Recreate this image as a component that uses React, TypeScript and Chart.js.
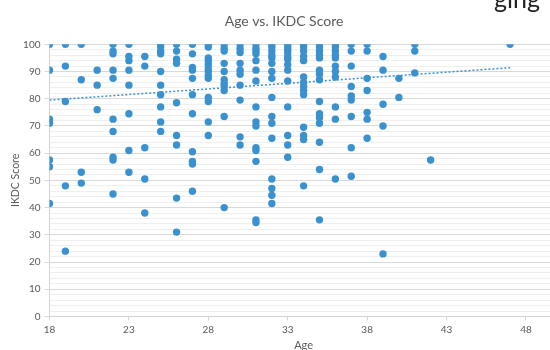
import React, { useEffect, useRef } from "react";
import { Chart, registerables } from "chart.js";

Chart.register(...registerables);

const chartTitle = "Age vs. IKDC Score";
const xTitle = "Age";
const yTitle = "IKDC Score";
const xTicks = [18, 23, 28, 33, 38, 43, 48];
const ages = [18, 19, 20, 21, 22, 23, 24, 25, 26, 27, 28, 29, 30, 31, 32, 33, 34, 35, 36, 37, 38, 39, 40, 41, 42, 47];
const scoresByAge = [
  [100, 90.5, 72.5, 71, 57.5, 55, 41.5],
  [100, 92, 79, 48, 24],
  [100, 87, 53, 49],
  [90.5, 85, 76],
  [100, 97.5, 96.5, 90.5, 87.5, 72.5, 68, 58.5, 57.5, 45],
  [100, 95.5, 94, 90.5, 85, 74.5, 61, 53],
  [95.5, 92, 62, 50.5, 38],
  [100, 99, 97.5, 96.5, 90, 85, 81.5, 77, 71.5, 68],
  [100, 97.5, 94.5, 93, 78.5, 66.5, 63, 43.5, 31],
  [100, 96.5, 91.5, 90.5, 87.5, 81.5, 74.5, 60.5, 57, 56, 46],
  [100, 99, 95, 94, 92.5, 91, 90, 88.5, 87.5, 80.5, 79, 71.5, 66.5],
  [100, 98.5, 97.5, 93, 90, 87, 85.5, 84.5, 83, 73.5, 40],
  [100, 98.5, 97, 93, 90.5, 89, 85, 79.5, 66, 63],
  [100, 98.5, 97.5, 96.5, 94, 90.5, 86.5, 77, 71.5, 70, 62, 61, 57, 35.5, 34.5],
  [100, 99, 97.5, 96, 95, 93, 90, 87.5, 80.5, 73.5, 71, 65.5, 50.5, 47, 44.5, 41.5],
  [100, 99, 98, 97, 95.5, 94.5, 92.5, 90.5, 86.5, 77, 66.5, 63, 58.5],
  [100, 99, 97.5, 95.5, 94, 88, 86, 84.5, 83, 81.5, 69.5, 66.5, 65, 48],
  [100, 99, 97.5, 96, 95, 90.5, 89, 87, 79, 74.5, 73, 71, 64, 54, 35.5],
  [100, 99, 97.5, 96, 95, 92, 90, 88, 77, 72.5, 50.5],
  [100, 97.5, 92, 84.5, 81, 79.5, 73.5, 62, 51.5],
  [100, 97.5, 87.5, 83, 75, 72.5, 65.5],
  [95.5, 90.5, 78, 70, 23],
  [87.5, 80.5],
  [100, 97.5, 89.5],
  [57.5],
  [100],
];
const trendAges = [18, 47];
const trendScores = [79.5, 91.4];

const FONT = "Lato, 'Open Sans', sans-serif";
const TEXT = "#595959";
const BLUE = "#3a91cf";

const titlePlugin = {
  id: "customTitle",
  afterDraw(chart: any) {
    const ctx = chart.ctx;
    ctx.save();
    ctx.fillStyle = TEXT;
    ctx.font = `14px ${FONT}`;
    ctx.textAlign = "center";
    ctx.textBaseline = "middle";
    ctx.fillText(chartTitle, 284, 21);
    ctx.fillStyle = "#222";
    ctx.font = `25px ${FONT}`;
    ctx.textAlign = "left";
    ctx.textBaseline = "alphabetic";
    ctx.fillText("ging", 494, 8);
    ctx.restore();
  },
};

export default function App() {
  const ref = useRef<HTMLCanvasElement>(null);
  useEffect(() => {
    const points = ages.flatMap((a, i) => scoresByAge[i].map((s) => ({ x: a, y: s })));
    const trend = trendAges.map((a, i) => ({ x: a, y: trendScores[i] }));
    const chart = new Chart(ref.current as HTMLCanvasElement, {
      type: "scatter",
      data: {
        datasets: [
          {
            data: points,
            backgroundColor: BLUE,
            borderWidth: 0,
            pointRadius: 3.7,
            pointHoverRadius: 3.7,
          },
          {
            data: trend,
            showLine: true,
            borderColor: BLUE,
            borderWidth: 1.5,
            borderDash: [2, 2],
            pointRadius: 0,
            fill: false,
          } as any,
        ],
      },
      options: {
        responsive: false,
        animation: false,
        devicePixelRatio: 1,
        layout: { padding: { top: 44.3, right: 12.3, left: 0, bottom: 0 }, autoPadding: false },
        plugins: { legend: { display: false }, tooltip: { enabled: false }, title: { display: false } },
        scales: {
          x: {
            type: "linear",
            min: 18,
            max: 50,
            afterBuildTicks: (s: any) => {
              s.ticks = xTicks.map((v) => ({ value: v }));
            },
            afterFit: (s: any) => {
              s.height = 43.5;
            },
            grid: { drawOnChartArea: false, color: "#d4d4d4", tickLength: 4 },
            border: { color: "#d4d4d4" },
            ticks: { color: TEXT, font: { family: FONT, size: 10 }, padding: 3, maxRotation: 0, autoSkip: false },
            title: { display: true, text: xTitle, color: TEXT, font: { family: FONT, size: 11 }, padding: { top: 4, bottom: 8 } },
          },
          y: {
            min: 0,
            max: 100,
            afterFit: (s: any) => {
              s.width = 49.5;
            },
            ticks: {
              stepSize: 2,
              autoSkip: false,
              color: TEXT,
              font: { family: FONT, size: 10 },
              padding: 4,
              callback: (v: any) => (Number(v) % 10 === 0 ? String(v) : ""),
            },
            grid: {
              color: (c: any) => (c.tick && c.tick.value % 10 === 0 ? "#d9d9d9" : "#efefef"),
              tickColor: (c: any) => (c.tick && c.tick.value % 10 === 0 ? "#d9d9d9" : "rgba(0,0,0,0)"),
              tickLength: 5,
            },
            border: { color: "#d4d4d4" },
            title: { display: true, text: yTitle, color: TEXT, font: { family: FONT, size: 10.5 }, padding: { top: 9, bottom: 4 } },
          },
        },
      } as any,
      plugins: [titlePlugin],
    });
    return () => chart.destroy();
  }, []);
  return (
    <div style={{ position: "fixed", left: 0, top: 0, width: 550, height: 350, overflow: "hidden", background: "#fff" }}>
      <canvas ref={ref} width={570} height={360} style={{ display: "block", width: 570, height: 360 }} />
    </div>
  );
}
